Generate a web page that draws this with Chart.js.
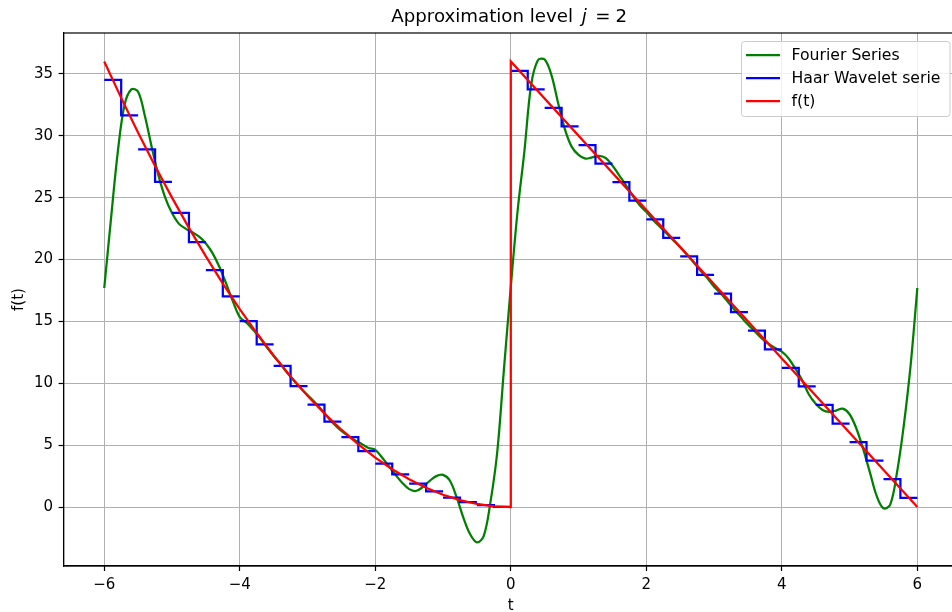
<!DOCTYPE html>
<html>
<head>
<meta charset="utf-8">
<script src="https://cdn.jsdelivr.net/npm/chart.js@4/dist/chart.umd.min.js"></script>
<style>
  html, body { margin: 0; padding: 0; background: #fff; overflow: hidden; }
  #wrap { width: 960px; height: 612px; position: relative; }
</style>
</head>
<body>
<div id="wrap"><canvas id="approxChart"></canvas></div>
<script>
// tick values
const xTicks = [-6, -4, -2, 0, 2, 4, 6];
const yTicks = [0, 5, 10, 15, 20, 25, 30, 35];

// f(t): parabola on [-6,0], jump at 0, straight line down to 6
const fT = [-6, -5.75, -5.5, -5.25, -5, -4.75, -4.5, -4.25, -4, -3.75, -3.5, -3.25, -3,
  -2.75, -2.5, -2.25, -2, -1.75, -1.5, -1.25, -1, -0.75, -0.5, -0.25, 0, 0, 6];
const fV = [36, 33.06, 30.25, 27.56, 25, 22.56, 20.25, 18.06, 16, 14.06, 12.25, 10.56, 9,
  7.56, 6.25, 5.06, 4, 3.06, 2.25, 1.56, 1, 0.56, 0.25, 0.06, 0, 36, 0];

// Haar level values, one per quarter unit from t=-6 to t=6
const haarStart = -6;
const haarWidth = 0.25;
const haarV = [
  34.52, 31.64, 28.90, 26.27, 23.77, 21.40, 19.15, 17.02, 15.02, 13.15, 11.40, 9.77,
  8.27, 6.90, 5.65, 4.52, 3.52, 2.65, 1.90, 1.27, 0.77, 0.40, 0.15, 0.02,
  35.25, 33.75, 32.25, 30.75, 29.25, 27.75, 26.25, 24.75, 23.25, 21.75, 20.25, 18.75,
  17.25, 15.75, 14.25, 12.75, 11.25, 9.75, 8.25, 6.75, 5.25, 3.75, 2.25, 0.75
];

// Fourier partial sum, sampled every 0.1 from t=-6 to t=6
const fourierStart = -6;
const fourierStep = 0.1;
const fourierV = [
  17.7, 23.3, 28.7, 32.5, 33.75, 33.55, 31.6, 29.1, 26.8, 25.0,
  23.75, 22.9, 22.5, 22.2, 21.85, 21.3, 20.5, 19.4, 18.05, 16.6,
  15.35, 14.9, 14.3, 13.65, 12.9, 12.2, 11.55, 10.85, 10.2, 9.6,
  9.05, 8.5, 7.9, 7.25, 6.65, 6.15, 5.75, 5.4, 5.1, 4.78,
  4.62, 4.0, 3.3, 2.6, 1.95, 1.45, 1.3, 1.62, 2.1, 2.5,
  2.6, 2.15, 0.8, -0.85, -2.2, -2.85, -2.35, 0.4, 4.45, 11.2,
  17.8,
  23.9, 28.7, 34.1, 36.1, 36.15, 34.9, 32.6, 30.5, 29.1, 28.45,
  28.15, 28.25, 28.38, 28.2, 27.6, 26.8, 26.0, 25.15, 24.4, 23.85,
  23.2, 22.65, 22.1, 21.55, 21.0, 20.4, 19.75, 19.1, 18.5, 17.8,
  17.25, 16.6, 15.95, 15.35, 14.75, 14.2, 13.65, 13.2, 12.85, 12.55,
  12.0, 11.17, 10.25, 9.1, 8.35, 7.85, 7.7, 7.8, 7.95, 7.5,
  6.35, 4.7, 2.8, 0.9, -0.1, 0.2, 2.8, 6.6, 11.4, 17.7
];

const fourierPts = fourierV.map((v, i) => ({ x: +(fourierStart + i * fourierStep).toFixed(2), y: v }));

// each half unit is drawn as its own little two-level step, no link between blocks
const haarPts = [];
for (let i = 0; i < haarV.length; i += 2) {
  const t0 = haarStart + i * haarWidth;
  haarPts.push({ x: t0, y: haarV[i] });
  haarPts.push({ x: t0 + haarWidth, y: haarV[i] });
  haarPts.push({ x: t0 + haarWidth, y: haarV[i + 1] });
  haarPts.push({ x: t0 + 2 * haarWidth, y: haarV[i + 1] });
  haarPts.push({ x: t0 + 2 * haarWidth, y: null });
}

const fPts = fT.map((t, i) => ({ x: t, y: fV[i] }));

const minus = (v) => (v < 0 ? "\u2212" + Math.abs(v) : String(v));

// title with an italic j, like the mathtext one
const titlePlugin = {
  id: "mathTitle",
  afterDraw(chart) {
    const ctx = chart.ctx;
    const cx = (chart.chartArea.left + chart.chartArea.right) / 2;
    const parts = [
      { s: "Approximation level", f: "18.2px 'DejaVu Sans'", dx: -119.5 },
      { s: "j", f: "italic 18.2px 'DejaVu Sans'", dx: 71 },
      { s: "=", f: "18.2px 'DejaVu Sans'", dx: 84.5 },
      { s: "2", f: "18.2px 'DejaVu Sans'", dx: 104.8 },
    ];
    ctx.save();
    ctx.fillStyle = "#000";
    ctx.textBaseline = "alphabetic";
    parts.forEach((p) => { ctx.font = p.f; ctx.fillText(p.s, cx + p.dx, 22); });
    ctx.restore();
  },
};

const framePlugin = {
  id: "frame",
  afterDatasetsDraw(chart) {
    const ctx = chart.ctx;
    const a = chart.chartArea;
    ctx.save();
    ctx.strokeStyle = "#000";
    ctx.lineWidth = 1.2;
    ctx.strokeRect(a.left, a.top, a.right - a.left, a.bottom - a.top);
    ctx.restore();
  },
};

const legendPlugin = {
  id: "boxLegend",
  afterDraw(chart) {
    const ctx = chart.ctx;
    const x0 = 741.5, y0 = 41.5, w = 208.5, h = 75, r = 3;
    ctx.save();
    ctx.beginPath();
    ctx.moveTo(x0 + r, y0);
    ctx.lineTo(x0 + w - r, y0);
    ctx.quadraticCurveTo(x0 + w, y0, x0 + w, y0 + r);
    ctx.lineTo(x0 + w, y0 + h - r);
    ctx.quadraticCurveTo(x0 + w, y0 + h, x0 + w - r, y0 + h);
    ctx.lineTo(x0 + r, y0 + h);
    ctx.quadraticCurveTo(x0, y0 + h, x0, y0 + h - r);
    ctx.lineTo(x0, y0 + r);
    ctx.quadraticCurveTo(x0, y0, x0 + r, y0);
    ctx.closePath();
    ctx.fillStyle = "rgba(255,255,255,0.8)";
    ctx.fill();
    ctx.strokeStyle = "#cccccc";
    ctx.lineWidth = 1;
    ctx.stroke();
    ctx.font = "15.7px 'DejaVu Sans'";
    ctx.textBaseline = "middle";
    chart.data.datasets.forEach((ds, i) => {
      const y = 55 + i * 23;
      ctx.strokeStyle = ds.borderColor;
      ctx.lineWidth = 2.25;
      ctx.beginPath();
      ctx.moveTo(746, y);
      ctx.lineTo(780, y);
      ctx.stroke();
      ctx.fillStyle = "#000";
      ctx.fillText(ds.label, 791.5, y + 1);
    });
    ctx.restore();
  },
};

Chart.defaults.font.family = "'DejaVu Sans'";
Chart.defaults.font.size = 15;
Chart.defaults.color = "#000";

new Chart(document.getElementById("approxChart").getContext("2d"), {
  type: "line",
  data: {
    datasets: [
      {
        label: "Fourier Series",
        data: fourierPts,
        borderColor: "#008000",
        borderWidth: 2.25,
        pointRadius: 0,
        tension: 0.35,
        order: 3,
      },
      {
        label: "Haar Wavelet serie",
        data: haarPts,
        borderColor: "#0000ff",
        borderWidth: 2.25,
        pointRadius: 0,
        tension: 0,
        spanGaps: false,
        order: 2,
      },
      {
        label: "f(t)",
        data: fPts,
        borderColor: "#ff0000",
        borderWidth: 2.25,
        pointRadius: 0,
        tension: 0,
        order: 1,
      },
    ],
  },
  options: {
    responsive: true,
    maintainAspectRatio: false,
    animation: false,
    events: [],
    layout: { padding: { top: 33, left: 6, right: 2, bottom: 0 } },
    plugins: {
      legend: { display: false },
      title: { display: false },
      tooltip: { enabled: false },
    },
    scales: {
      x: {
        type: "linear",
        min: -6.6,
        max: 6.6,
        afterBuildTicks: (axis) => { axis.ticks = xTicks.map((v) => ({ value: v })); },
        ticks: { callback: minus, padding: 5, maxRotation: 0 },
        grid: { color: "#b0b0b0", lineWidth: 1, tickColor: "#000", tickLength: 5, tickWidth: 1.2 },
        border: { color: "#000", width: 1.2 },
        title: { display: true, text: "t", padding: { top: -2, bottom: -3 } },
      },
      y: {
        type: "linear",
        min: -4.76,
        max: 38.3,
        afterBuildTicks: (axis) => { axis.ticks = yTicks.map((v) => ({ value: v })); },
        ticks: { callback: minus, padding: 5.5 },
        grid: { color: "#b0b0b0", lineWidth: 1, tickColor: "#000", tickLength: 5, tickWidth: 1.2 },
        border: { color: "#000", width: 1.2 },
        title: { display: true, text: "f(t)", padding: { top: 4, bottom: 0.5 } },
      },
    },
  },
  plugins: [titlePlugin, framePlugin, legendPlugin],
});
</script>
</body>
</html>
